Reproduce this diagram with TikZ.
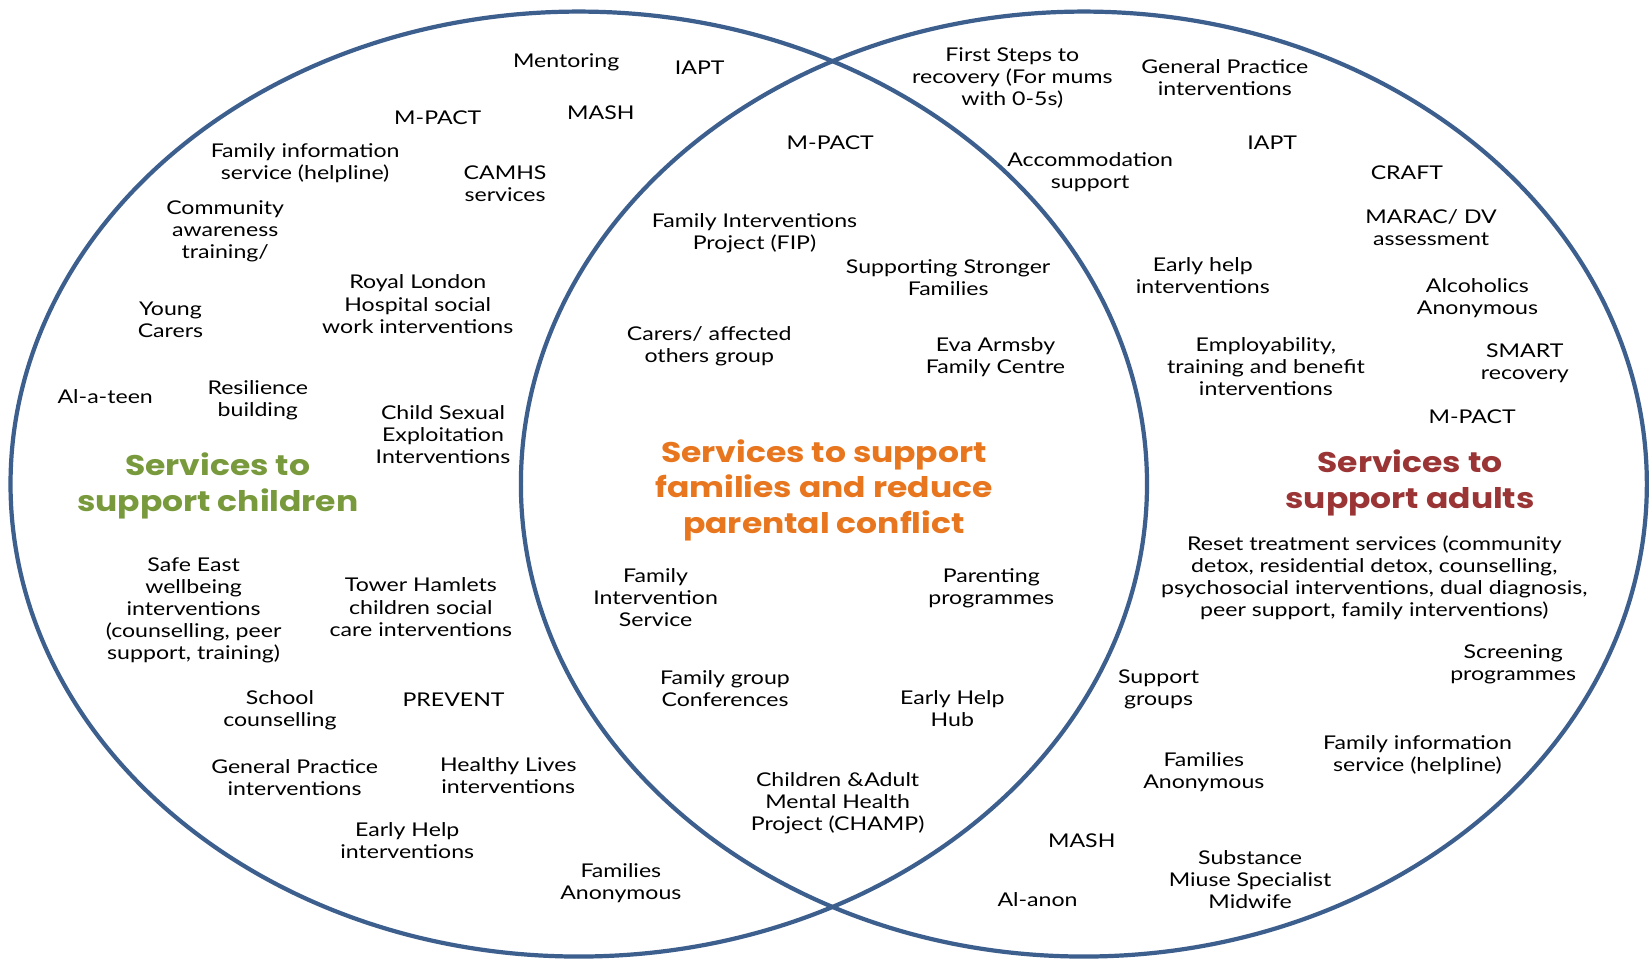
\documentclass[tikz,border=0pt]{standalone}
\usepackage{fontspec}
\setmainfont{Lato}[FakeStretch=1.22]
\newfontfamily\titlefont{Poppins}[FakeStretch=1.16]
\definecolor{ringblue}{HTML}{3D5F8E}
\definecolor{kidgreen}{HTML}{789A3C}
\definecolor{famorange}{HTML}{E8761E}
\definecolor{adultred}{HTML}{9B3535}
\begin{document}
\begin{tikzpicture}[x=1pt,y=-1pt,
  lbl/.style={align=center,inner sep=0pt,text=black,yshift=-2pt,font=\fontsize{18}{21}\selectfont},
  ttl/.style={align=center,inner sep=0pt,yshift=-3pt,font=\titlefont\bfseries\fontsize{27}{34}\selectfont},
  ring/.style={draw=ringblue,line width=4pt}]
\useasboundingbox (0,0) rectangle (1568,912);
\fill[white] (0,0) rectangle (1568,912);
\draw[ring] (550,460) ellipse [x radius=540,y radius=449];
\draw[ring] (1030,460) ellipse [x radius=535,y radius=449];
% left
\node[lbl] (l1) at (538,57) {Mentoring};
\node[lbl] (l2) at (665,62) {IAPT};
\node[lbl] (l3) at (416,110) {M-PACT};
\node[lbl] (l4) at (571,105) {MASH};
\node[lbl] (l5) at (290,153) {Family information\\service (helpline)};
\node[lbl] (l6) at (480,173) {CAMHS\\services};
\node[lbl] (l7) at (214,218) {Community\\awareness\\training/};
\node[lbl] (l8) at (397,287) {Royal London\\Hospital social\\work interventions};
\node[lbl] (l9) at (162,302) {Young\\Carers};
\node[lbl] (l10) at (100,375) {Al-a-teen};
\node[lbl] (l11) at (245,378) {Resilience\\building};
\node[lbl] (l12) at (421,411) {Child Sexual\\Exploitation\\Interventions};
\node[ttl,text=kidgreen] (tl) at (207,459) {Services to\\support children};
\node[lbl] (l13) at (184,578) {Safe East\\wellbeing\\interventions\\(counselling, peer\\support, training)};
\node[lbl] (l14) at (400,575) {Tower Hamlets\\children social\\care interventions};
\node[lbl] (l15) at (266,673) {School\\counselling};
\node[lbl] (l16) at (431,663) {PREVENT};
\node[lbl] (l17) at (280,737) {General Practice\\interventions};
\node[lbl] (l18) at (483,735) {Healthy Lives\\interventions};
\node[lbl] (l19) at (387,797) {Early Help\\interventions};
\node[lbl] (l20) at (590,837) {Families\\Anonymous};
% centre
\node[lbl] (c1) at (789,134) {M-PACT};
\node[lbl] (c2) at (717,220) {Family Interventions\\Project (FIP)};
\node[lbl] (c3) at (901,262) {Supporting Stronger\\Families};
\node[lbl] (c4) at (674,327) {Carers/ affected\\others group};
\node[lbl] (c5) at (946,337) {Eva Armsby\\Family Centre};
\node[ttl,text=famorange] (tc) at (783,463) {Services to support\\families and reduce\\parental conflict};
\node[lbl] (c6) at (623,566) {Family\\Intervention\\Service};
\node[lbl] (c7) at (942,557) {Parenting\\programmes};
\node[lbl] (c8) at (689,652) {Family group\\Conferences};
\node[lbl] (c9) at (905,671) {Early Help\\Hub};
\node[lbl] (c10) at (796,761) {Children \&Adult\\Mental Health\\Project (CHAMP)};
% right
\node[lbl] (r1) at (962,72) {First Steps to\\recovery (For mums\\with 0-5s)};
\node[lbl] (r2) at (1164,72) {General Practice\\interventions};
\node[lbl] (r3) at (1209,134) {IAPT};
\node[lbl] (r4) at (1036,162) {Accommodation\\support};
\node[lbl] (r5) at (1337,162) {CRAFT};
\node[lbl] (r6) at (1360,214) {MARAC/ DV\\assessment};
\node[lbl] (r7) at (1143,260) {Early help\\interventions};
\node[lbl] (r8) at (1404,281) {Alcoholics\\Anonymous};
\node[lbl] (r9) at (1203,346) {Employability,\\training and benefit\\interventions};
\node[lbl] (r10) at (1449,343) {SMART\\recovery};
\node[lbl] (r11) at (1399,394) {M-PACT};
\node[ttl,text=adultred] (tr) at (1340,456) {Services to\\support adults};
\node[lbl] (r12) at (1306,547) {Reset treatment services (community\\detox, residential detox, counselling,\\psychosocial interventions, dual diagnosis,\\peer support, family interventions)};
\node[lbl] (r13) at (1438,629) {Screening\\programmes};
\node[lbl] (r14) at (1101,653) {Support\\groups};
\node[lbl] (r15) at (1347,716) {Family information\\service (helpline)};
\node[lbl] (r16) at (1144,732) {Families\\Anonymous};
\node[lbl] (r17) at (1028,797) {MASH};
\node[lbl] (r18) at (1188,834) {Substance\\Miuse Specialist\\Midwife};
\node[lbl] (r19) at (986,853) {Al-anon};
\end{tikzpicture}
\end{document}
